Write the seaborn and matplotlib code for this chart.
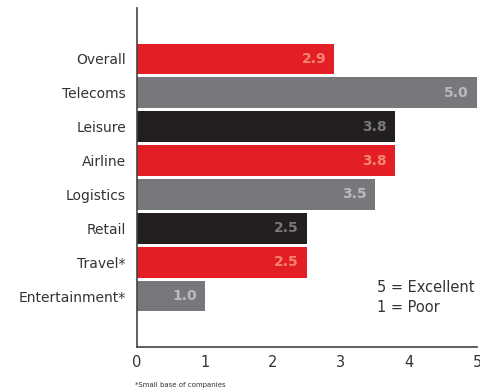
import matplotlib
matplotlib.use("Agg")
import matplotlib.pyplot as plt
import seaborn as sns
import pandas as pd

categories = ["Overall", "Telecoms", "Leisure", "Airline", "Logistics",
              "Retail", "Travel*", "Entertainment*"]
scores = [2.9, 5.0, 3.8, 3.8, 3.5, 2.5, 2.5, 1.0]
bar_colors = ["#e31e24", "#77787b", "#231f20", "#e31e24", "#77787b",
              "#231f20", "#e31e24", "#77787b"]
label_colors = ["#f4866f", "#b9babc", "#77787b", "#f4866f", "#b9babc",
                "#77787b", "#f4866f", "#b9babc"]
x_ticks = [0, 1, 2, 3, 4, 5]

sns.set_style("white")
plt.rcParams["font.family"] = ["DejaVu Sans"]

df = pd.DataFrame({"category": categories, "score": scores})

fig = plt.figure(figsize=(4.8, 3.92), dpi=100)
ax = fig.add_axes([0.2854, 0.1148, 0.7083, 0.8648])

sns.barplot(data=df, x="score", y="category", hue="category",
            palette=dict(zip(categories, bar_colors)), order=categories,
            orient="h", width=0.9, saturation=1, legend=False,
            edgecolor="none", linewidth=0, ax=ax)

for i, (v, c) in enumerate(zip(scores, label_colors)):
    ax.text(v - 0.12, i, f"{v:.1f}", ha="right", va="center",
            fontsize=10, fontweight="bold", color=c)

ax.set_xlim(0, 5)
ax.set_ylim(8.5, -1.5)
ax.set_xticks(x_ticks)
ax.set_xticklabels([str(t) for t in x_ticks], fontsize=10.5, color="#333333")
ax.tick_params(axis="x", direction="in", length=7, width=1.2,
               color="#444444", pad=6)
ax.tick_params(axis="y", length=0, pad=8, labelsize=10, labelcolor="#333333")
ax.set_xlabel("")
ax.set_ylabel("")

for side in ("top", "right"):
    ax.spines[side].set_visible(False)
for side in ("left", "bottom"):
    ax.spines[side].set_color("#444444")
    ax.spines[side].set_linewidth(1.2)

ax.text(3.53, 7.05, "5 = Excellent\n1 = Poor", fontsize=10.5,
        color="#333333", va="center", ha="left", linespacing=1.4)

fig.text(0.281, 0.017, "*Small base of companies", fontsize=5,
         color="#333333", ha="left", va="center")

fig.savefig("out.png", dpi=100)
